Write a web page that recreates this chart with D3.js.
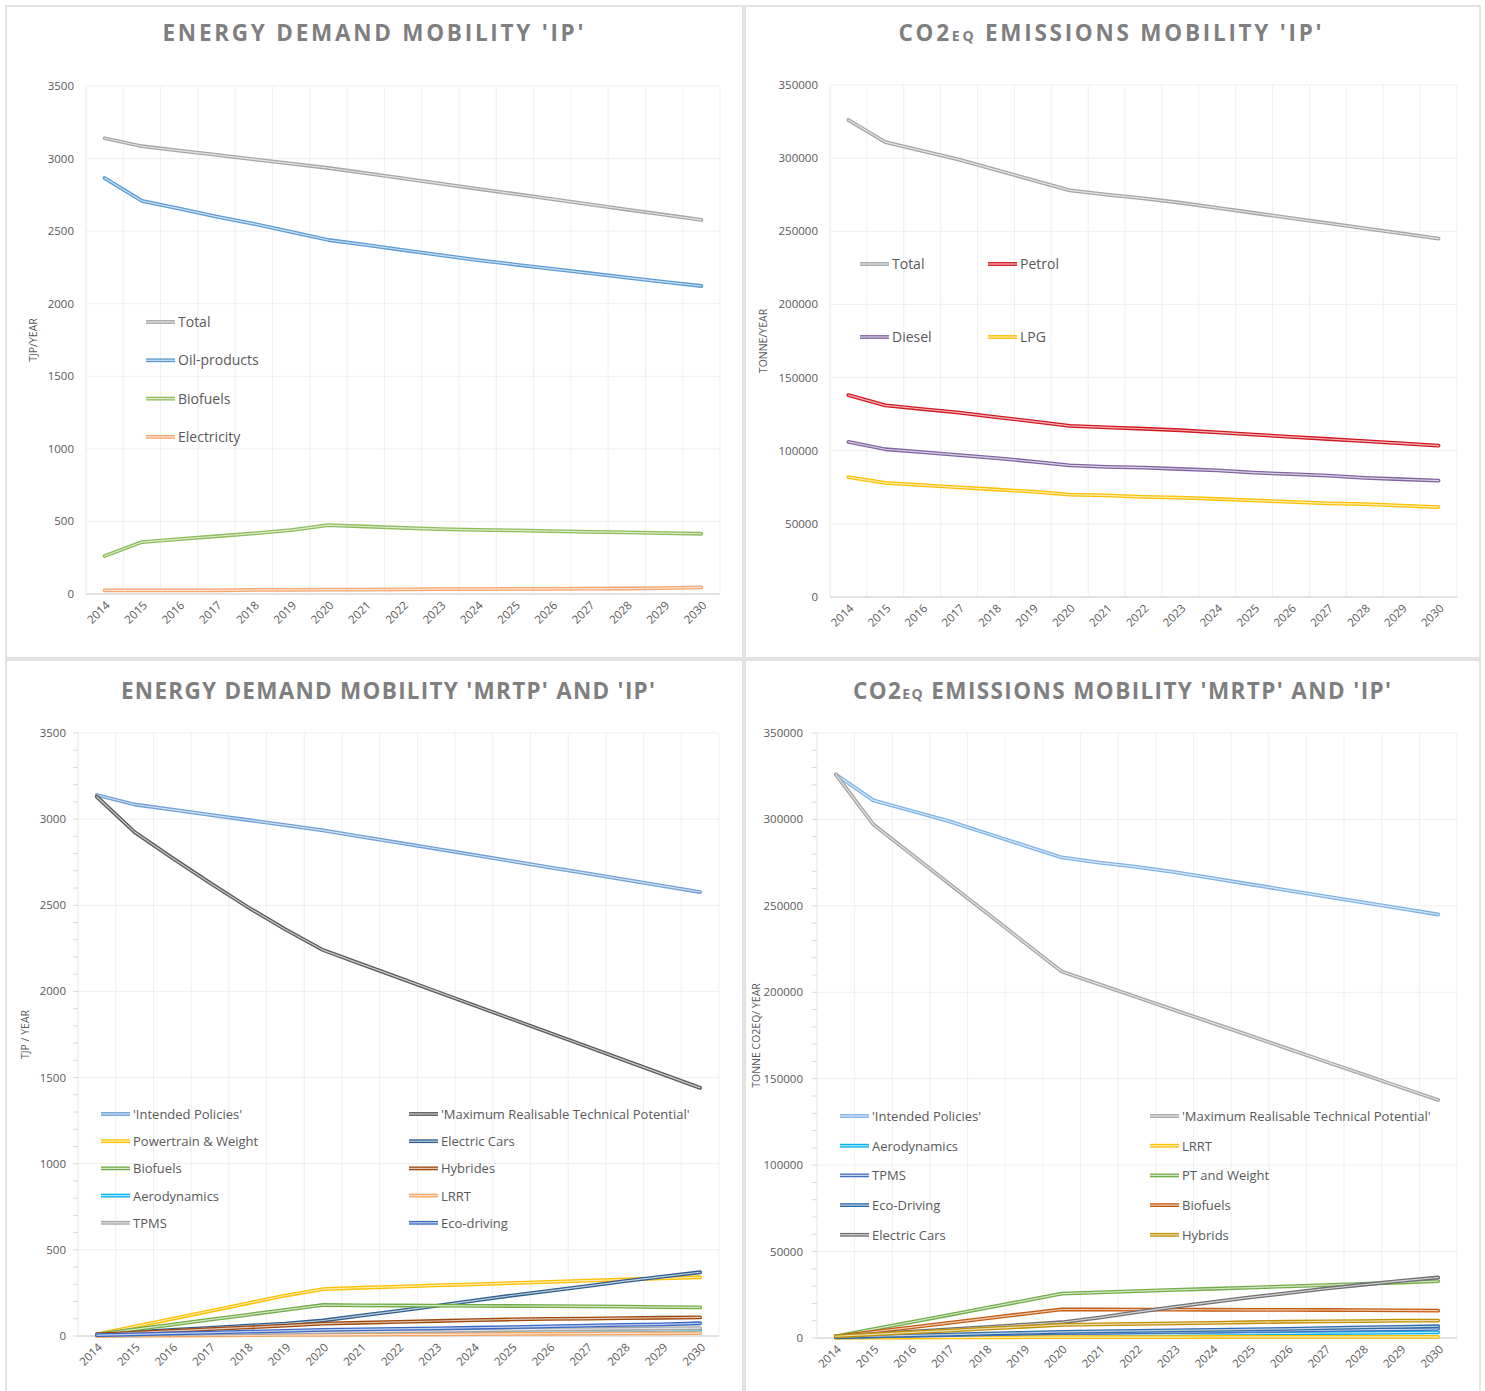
<!DOCTYPE html>
<html>
<head>
<meta charset="utf-8">
<script src="https://cdn.jsdelivr.net/npm/d3@7"></script>
<style>
  body { margin: 0; background: #ffffff; }
  text { font-family: "Open Sans", "Liberation Sans", sans-serif; }
</style>
</head>
<body>
<svg id="chart" width="1485" height="1391"></svg>
<script>
// ---- data ----
let years = ["2014","2015","2016","2017","2018","2019","2020","2021","2022","2023","2024","2025","2026","2027","2028","2029","2030"];

// energy demand 'IP' (TJ/year)
let enTotal = [3140, 3085, 3055, 3025, 2995, 2965, 2935, 2899, 2863, 2828, 2792, 2756, 2720, 2685, 2649, 2613, 2577];
let enOil   = [2866, 2708, 2655, 2600, 2550, 2495, 2439, 2405, 2370, 2335, 2300, 2270, 2240, 2210, 2180, 2150, 2122];
let enBio   = [262, 358, 378, 398, 418, 440, 475, 465, 455, 447, 442, 438, 433, 428, 424, 420, 415];
let enElec  = [25, 25, 25, 25, 28, 28, 30, 30, 32, 33, 33, 35, 36, 37, 38, 40, 45];

// co2eq emissions 'IP' (tonne/year)
let coTotal  = [326000, 311000, 305000, 299000, 292000, 285000, 278000, 275000, 272500, 269500, 266000, 262500, 259000, 255500, 252000, 248500, 245000];
let coPetrol = [138000, 131000, 128500, 126000, 123000, 120000, 117000, 116000, 115000, 114000, 112500, 111000, 109500, 108000, 106500, 105000, 103500];
let coDiesel = [106000, 101000, 99000, 97000, 95000, 92500, 90000, 89000, 88500, 87500, 86500, 85000, 84000, 83000, 81500, 80500, 79500];
let coLpg    = [82000, 78000, 76500, 75000, 73500, 72000, 70000, 69500, 68500, 68000, 67000, 66000, 65000, 64000, 63500, 62500, 61500];

// energy demand 'MRTP' and 'IP'
let enMrtp    = [3130, 2925, 2775, 2630, 2490, 2360, 2240, 2160, 2080, 2000, 1920, 1840, 1760, 1680, 1600, 1520, 1440];
let enPtw     = [10, 55, 100, 145, 190, 235, 272, 280, 287, 294, 300, 307, 314, 321, 328, 335, 341];
let enEcars   = [10, 22, 35, 47, 60, 72, 90, 118, 146, 175, 205, 235, 262, 290, 318, 345, 370];
let enBiof    = [10, 38, 66, 95, 123, 152, 180, 178, 177, 176, 175, 174, 173, 172, 170, 168, 166];
let enHyb     = [10, 20, 30, 40, 50, 60, 72, 77, 82, 87, 92, 96, 99, 101, 104, 106, 108];
let enAero    = [2, 4, 6, 8, 10, 12, 14, 16, 18, 20, 22, 24, 26, 28, 30, 32, 35];
let enLrrt    = [0, 2, 3, 4, 5, 6, 7, 8, 9, 10, 11, 12, 13, 14, 15, 16, 17];
let enTpms    = [5, 8, 11, 14, 17, 20, 23, 25, 27, 29, 32, 35, 38, 40, 42, 44, 46];
let enEco     = [5, 10, 15, 20, 25, 30, 35, 38, 41, 44, 48, 52, 56, 60, 64, 68, 74];

// co2eq emissions 'MRTP' and 'IP'
let coMrtp   = [326000, 297000, 280000, 263000, 246000, 229000, 212000, 204600, 197100, 189700, 182300, 174900, 167400, 160000, 152600, 145100, 137700];
let coAero   = [300, 500, 700, 900, 1100, 1300, 1500, 1700, 1900, 2100, 2300, 2500, 2700, 2900, 3000, 3100, 3300];
let coLrrt   = [200, 250, 300, 350, 400, 450, 500, 520, 540, 560, 580, 600, 620, 640, 660, 680, 700];
let coTpms   = [500, 900, 1300, 1700, 2100, 2500, 2800, 3000, 3200, 3400, 3700, 4000, 4300, 4500, 4800, 5000, 5300];
let coPtw    = [1000, 5100, 9200, 13300, 17400, 21500, 25700, 26400, 27100, 27800, 28500, 29200, 29900, 30600, 31300, 32100, 32900];
let coEco    = [500, 1000, 1500, 2000, 2500, 3000, 3500, 3800, 4100, 4400, 4700, 5000, 5300, 5700, 6100, 6400, 6800];
let coBiof   = [1000, 3600, 6200, 8800, 11400, 14000, 16500, 16500, 16450, 16400, 16350, 16300, 16250, 16200, 16100, 16000, 15800];
let coEcars  = [1000, 2300, 3700, 5000, 6300, 7700, 9100, 11800, 15000, 18000, 20800, 23500, 26000, 28500, 30800, 33000, 35000];
let coHyb    = [1000, 2100, 3200, 4300, 5400, 6500, 7600, 7900, 8200, 8500, 8800, 9100, 9400, 9600, 9800, 10000, 10100];

let svg = d3.select("#chart");
let textClr = "#595959";

// panel frames
[[6,6,737,652],[745,6,735,652],[6,660,737,740],[745,660,735,740]].forEach(r=>{
	svg.append("rect").attr("x", r[0]).attr("y", r[1]).attr("width", r[2]).attr("height", r[3])
		.attr("fill", "none").attr("stroke", "#d9d9d9").attr("stroke-width", 1.5);
});

drawChart = (cfg)=>{
	let g = svg.append("g");
	let x = d3.scaleBand().domain(years).range([cfg.left, cfg.right]);
	let y = d3.scaleLinear().domain([0, cfg.max]).range([cfg.bottom, cfg.top]);
	let yTicks = d3.range(0, cfg.max + 1, cfg.step);

	// gridlines
	g.append("g").selectAll("line").data(yTicks.slice(1)).enter().append("line")
		.attr("x1", cfg.left).attr("x2", cfg.right)
		.attr("y1", d=>y(d)).attr("y2", d=>y(d))
		.attr("stroke", "#efefef").attr("stroke-width", 1);
	g.append("g").selectAll("line").data(years).enter().append("line")
		.attr("x1", d=>x(d) + x.bandwidth()).attr("x2", d=>x(d) + x.bandwidth())
		.attr("y1", cfg.top).attr("y2", cfg.bottom)
		.attr("stroke", "#efefef").attr("stroke-width", 1);

	// axes lines
	g.append("line").attr("x1", cfg.left).attr("x2", cfg.right).attr("y1", cfg.bottom).attr("y2", cfg.bottom)
		.attr("stroke", "#d9d9d9").attr("stroke-width", 1.5);
	g.append("line").attr("x1", cfg.left).attr("x2", cfg.left).attr("y1", cfg.top).attr("y2", cfg.bottom)
		.attr("stroke", "#e6e6e6").attr("stroke-width", 1);

	if (cfg.minor) {
		g.append("g").selectAll("line").data(d3.range(0, cfg.max + 1, cfg.minor)).enter().append("line")
			.attr("x1", cfg.left - 5).attr("x2", cfg.left)
			.attr("y1", d=>y(d)).attr("y2", d=>y(d))
			.attr("stroke", "#d9d9d9").attr("stroke-width", 1);
	}

	// y tick labels
	g.append("g").selectAll("text").data(yTicks).enter().append("text")
		.attr("x", cfg.left - cfg.lblGap).attr("y", d=>y(d) + 4)
		.attr("text-anchor", "end").attr("font-size", "11.5px").attr("fill", textClr)
		.text(d=>d);

	// x tick labels
	g.append("g").selectAll("text").data(years).enter().append("text")
		.attr("transform", d=>"translate(" + (x(d) + x.bandwidth()/2 + 6) + "," + (cfg.bottom + 12) + ") rotate(-45)")
		.attr("text-anchor", "end").attr("font-size", "11.5px").attr("fill", textClr)
		.text(d=>d);

	// y title
	g.append("text")
		.attr("transform", "translate(" + cfg.yTitleX + "," + ((cfg.top + cfg.bottom)/2) + ") rotate(-90)")
		.attr("text-anchor", "middle").attr("font-size", "10.5px").attr("fill", textClr)
		.text(cfg.yTitle);

	// title
	let t = g.append("text")
		.attr("x", cfg.titleX).attr("y", cfg.titleY)
		.attr("text-anchor", "middle").attr("font-size", "22.5px").attr("font-weight", 700)
		.attr("fill", "#7f7f7f")
		.attr("textLength", cfg.titleW).attr("lengthAdjust", "spacing");
	cfg.title.forEach(p=>{
		t.append("tspan").attr("font-size", p.small ? "14px" : "22.5px").text(p.s);
	});

	// series, excel style double line
	let line = d3.line().x((d,i)=>x(years[i]) + x.bandwidth()/2).y(d=>y(d));
	let sg = g.append("g").attr("fill", "none").attr("stroke-linejoin", "round").attr("stroke-linecap", "round");
	cfg.series.forEach(s=>{
		sg.append("path").attr("d", line(s.values)).attr("stroke", s.color).attr("stroke-width", 3.8);
		sg.append("path").attr("d", line(s.values)).attr("stroke", "#ffffff").attr("stroke-width", 1.2).attr("stroke-opacity", 0.7);
	});

	// legend
	let lg = g.append("g");
	cfg.series.forEach((s,i)=>{
		let col = i % cfg.legend.cols;
		let row = Math.floor(i / cfg.legend.cols);
		let lx = cfg.legend.x[col];
		let ly = cfg.legend.y + row * cfg.legend.dy;
		lg.append("line").attr("x1", lx).attr("x2", lx + 29).attr("y1", ly).attr("y2", ly)
			.attr("stroke", s.color).attr("stroke-width", 3.8);
		lg.append("line").attr("x1", lx).attr("x2", lx + 29).attr("y1", ly).attr("y2", ly)
			.attr("stroke", "#ffffff").attr("stroke-width", 1.2).attr("stroke-opacity", 0.7);
		lg.append("text").attr("x", lx + 32).attr("y", ly + 5)
			.attr("font-size", cfg.legend.fs).attr("fill", textClr).text(s.name);
	});
}

drawChart({
	left: 86, right: 720, top: 86, bottom: 594, max: 3500, step: 500, lblGap: 12,
	title: [{s:"ENERGY DEMAND MOBILITY 'IP'"}], titleX: 373, titleY: 41, titleW: 421,
	yTitle: "TJP/YEAR", yTitleX: 37,
	series: [
		{name: "Total", values: enTotal, color: "#a6a6a6"},
		{name: "Oil-products", values: enOil, color: "#5b9bd5"},
		{name: "Biofuels", values: enBio, color: "#8cbd5a"},
		{name: "Electricity", values: enElec, color: "#f7a56e"}
	],
	legend: {cols: 1, x: [146], y: 322, dy: 38.3, fs: "14px"}
});

drawChart({
	left: 830, right: 1457, top: 85, bottom: 597, max: 350000, step: 50000, lblGap: 12,
	title: [{s:"CO2"},{s:"EQ", small:true},{s:" EMISSIONS MOBILITY 'IP'"}], titleX: 1110, titleY: 41, titleW: 423,
	yTitle: "TONNE/YEAR", yTitleX: 767,
	series: [
		{name: "Total", values: coTotal, color: "#a6a6a6"},
		{name: "Petrol", values: coPetrol, color: "#d0161e"},
		{name: "Diesel", values: coDiesel, color: "#8064a2"},
		{name: "LPG", values: coLpg, color: "#ffc000"}
	],
	legend: {cols: 2, x: [860, 988], y: 264, dy: 73, fs: "14px"}
});

drawChart({
	left: 78, right: 719, top: 733, bottom: 1336, max: 3500, step: 500, minor: 100, lblGap: 12,
	title: [{s:"ENERGY DEMAND MOBILITY 'MRTP' AND 'IP'"}], titleX: 388, titleY: 699, titleW: 534,
	yTitle: "TJP / YEAR", yTitleX: 29,
	series: [
		{name: "'Intended Policies'", values: enTotal, color: "#6f9fd8"},
		{name: "'Maximum Realisable Technical Potential'", values: enMrtp, color: "#595959"},
		{name: "Powertrain & Weight", values: enPtw, color: "#ffc000"},
		{name: "Electric Cars", values: enEcars, color: "#2f5f8f"},
		{name: "Biofuels", values: enBiof, color: "#70ad47"},
		{name: "Hybrides", values: enHyb, color: "#9e480e"},
		{name: "Aerodynamics", values: enAero, color: "#00b0f0"},
		{name: "LRRT", values: enLrrt, color: "#f4a460"},
		{name: "TPMS", values: enTpms, color: "#a5a5a5"},
		{name: "Eco-driving", values: enEco, color: "#3a66c4"}
	],
	legend: {cols: 2, x: [101, 409], y: 1114, dy: 27.2, fs: "13px"}
});

drawChart({
	left: 817, right: 1457, top: 733, bottom: 1338, max: 350000, step: 50000, minor: 10000, lblGap: 14,
	title: [{s:"CO2"},{s:"EQ", small:true},{s:" EMISSIONS MOBILITY 'MRTP' AND 'IP'"}], titleX: 1122, titleY: 699, titleW: 538,
	yTitle: "TONNE CO2EQ/ YEAR", yTitleX: 760,
	series: [
		{name: "'Intended Policies'", values: coTotal, color: "#7fb2e5"},
		{name: "'Maximum Realisable Technical Potential'", values: coMrtp, color: "#a6a6a6"},
		{name: "Aerodynamics", values: coAero, color: "#00b0f0"},
		{name: "LRRT", values: coLrrt, color: "#ffc000"},
		{name: "TPMS", values: coTpms, color: "#4472c4"},
		{name: "PT and Weight", values: coPtw, color: "#70ad47"},
		{name: "Eco-Driving", values: coEco, color: "#2e6aa8"},
		{name: "Biofuels", values: coBiof, color: "#c55a11"},
		{name: "Electric Cars", values: coEcars, color: "#707070"},
		{name: "Hybrids", values: coHyb, color: "#bf9000"}
	],
	legend: {cols: 2, x: [840, 1150], y: 1116, dy: 29.7, fs: "13px"}
});
</script>
</body>
</html>
